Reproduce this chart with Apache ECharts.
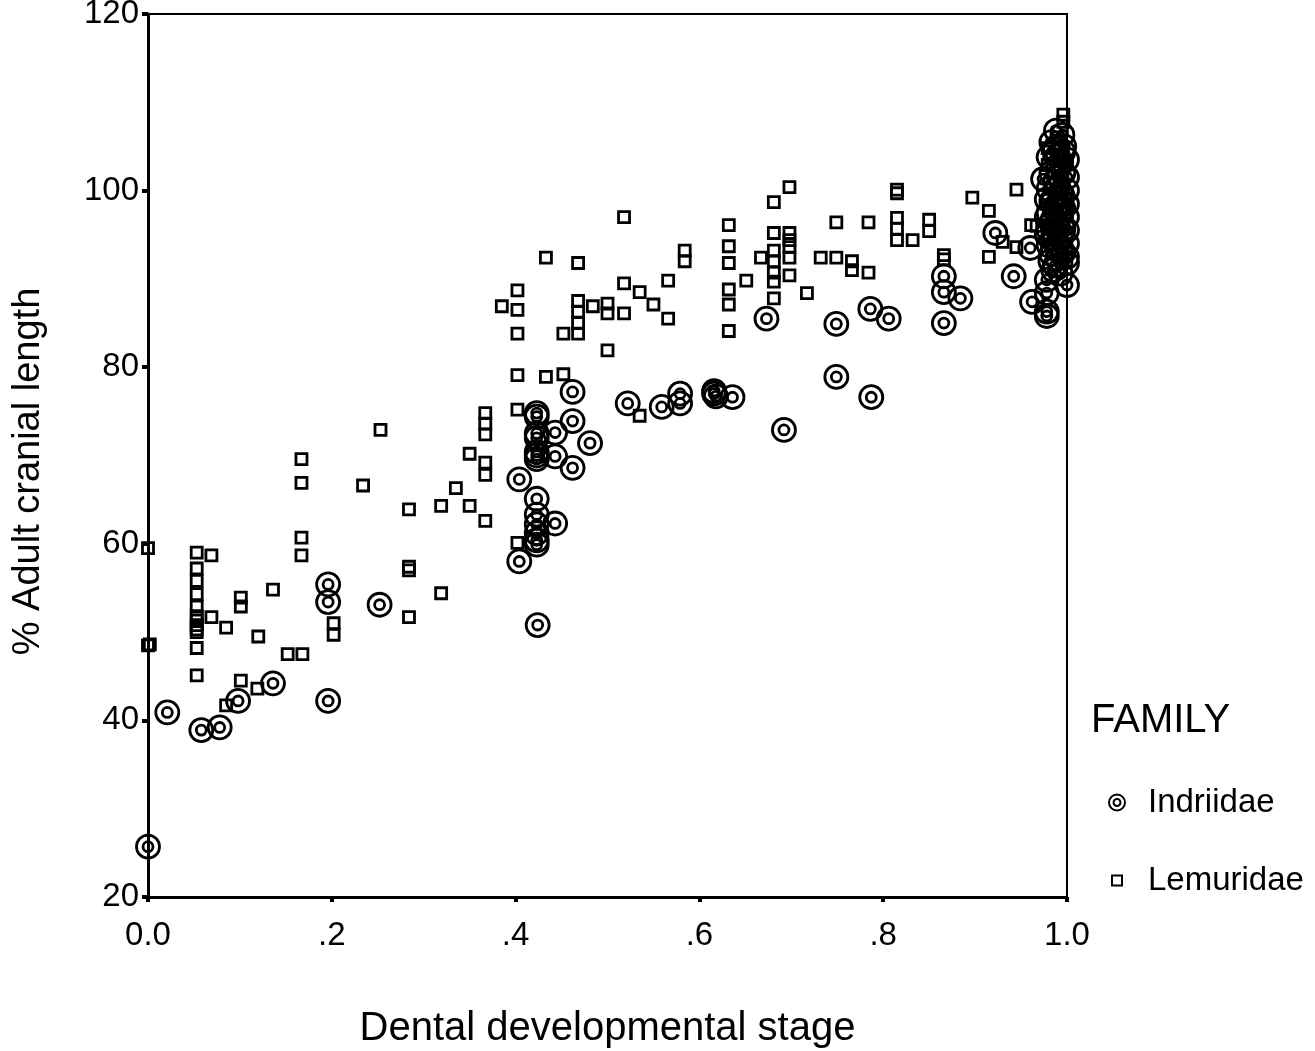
<!DOCTYPE html>
<html>
<head>
<meta charset="utf-8">
<script src="https://cdn.jsdelivr.net/npm/echarts@6/dist/echarts.min.js"></script>
<style>
html,body{margin:0;padding:0;background:#fff;}
#chart{width:1315px;height:1051px;}
</style>
</head>
<body>
<div id="chart"></div>
<script>
// ---- DATA ----
const xTicks = [0, 0.2, 0.4, 0.6, 0.8, 1.0];
const xTickLabels = ['0.0', '.2', '.4', '.6', '.8', '1.0'];
const yTicks = [20, 40, 60, 80, 100, 120];

const indriidae = [
  [0.000, 25.7], [0.021, 40.9], [0.058, 38.9], [0.078, 39.2], [0.098, 42.2], [0.136, 44.2],
  [0.196, 55.4], [0.196, 53.4], [0.196, 42.2], [0.252, 53.1],
  [0.404, 58.0], [0.404, 67.3],
  [0.423, 74.8], [0.423, 74.4], [0.423, 72.5], [0.423, 72.0], [0.423, 70.4], [0.423, 70.0], [0.423, 69.6],
  [0.443, 72.6], [0.443, 69.9], [0.443, 62.3],
  [0.462, 77.2], [0.462, 73.9], [0.462, 68.6], [0.481, 71.4],
  [0.423, 65.1], [0.423, 63.3], [0.423, 62.2], [0.423, 61.2], [0.423, 60.4], [0.423, 59.9],
  [0.424, 50.8],
  [0.522, 75.9], [0.559, 75.5], [0.579, 77.0], [0.579, 75.9],
  [0.616, 77.3], [0.616, 77.0], [0.618, 76.7], [0.636, 76.6],
  [0.673, 85.5], [0.692, 72.9], [0.749, 84.9], [0.749, 78.9],
  [0.786, 86.6], [0.806, 85.5], [0.787, 76.6],
  [0.866, 90.3], [0.866, 88.5], [0.884, 87.8], [0.866, 85.0],
  [0.922, 95.2], [0.942, 90.3], [0.960, 93.5], [0.962, 87.4],
  [0.978, 86.3], [0.978, 85.8], [0.978, 88.4], [0.978, 89.9], [0.974, 101.3],
  [0.978, 99.0], [0.980, 97.5], [0.980, 95.5], [0.980, 93.8], [0.982, 92.0], [0.985, 91.0],
  [0.990, 104.0], [0.990, 102.5], [0.990, 100.5], [0.990, 98.0], [0.990, 96.0], [0.990, 94.0],
  [0.995, 106.3], [0.997, 105.0], [1.000, 103.5], [1.000, 101.5], [1.000, 100.0], [1.000, 98.5],
  [1.000, 97.0], [1.000, 95.5], [1.000, 94.0], [1.000, 92.5], [1.000, 91.8], [1.000, 89.3],
  [0.995, 99.5], [0.985, 96.8], [0.985, 94.6],
  [0.983, 105.5], [0.987, 104.7], [0.993, 103.2], [0.983, 102.0], [0.987, 101.0], [0.993, 99.8],
  [0.983, 98.8], [0.987, 97.9], [0.993, 97.2], [0.983, 96.3], [0.987, 95.0], [0.993, 93.6],
  [0.983, 92.8], [0.987, 91.5], [0.993, 90.6], [0.988, 106.8], [0.996, 104.4], [0.996, 102.0],
  [0.996, 98.0], [0.996, 95.6], [0.996, 93.0], [0.980, 100.2], [0.980, 103.8], [0.990, 92.3],
  [0.978, 95.0], [0.978, 97.0]
];

const lemuridae = [
  [0.000, 59.5], [0.000, 48.5], [0.002, 48.6],
  [0.053, 59.0], [0.053, 57.2], [0.053, 55.8], [0.053, 54.3], [0.053, 52.9], [0.053, 51.8],
  [0.053, 51.3], [0.053, 50.8], [0.053, 50.3], [0.053, 50.0], [0.053, 48.2], [0.053, 45.1],
  [0.069, 58.7], [0.069, 51.7], [0.085, 50.5], [0.085, 41.7],
  [0.101, 53.9], [0.101, 52.9], [0.101, 44.5], [0.119, 43.6], [0.120, 49.5], [0.136, 54.8],
  [0.152, 47.5], [0.168, 47.5], [0.167, 60.7], [0.167, 58.7], [0.167, 69.6], [0.167, 66.9],
  [0.202, 51.0], [0.202, 49.7], [0.234, 66.6], [0.253, 72.9],
  [0.284, 63.9], [0.284, 57.4], [0.284, 57.0], [0.284, 51.7],
  [0.319, 64.3], [0.319, 54.4], [0.335, 66.3], [0.350, 70.2], [0.350, 64.3],
  [0.367, 74.8], [0.367, 73.6], [0.367, 72.4], [0.367, 69.2], [0.367, 67.8], [0.367, 62.6],
  [0.385, 86.9],
  [0.402, 88.7], [0.402, 86.5], [0.402, 83.8], [0.402, 79.1], [0.402, 75.2], [0.402, 60.1],
  [0.433, 92.4], [0.433, 78.9], [0.452, 83.8], [0.452, 79.2],
  [0.468, 91.8], [0.468, 87.5], [0.468, 86.3], [0.468, 85.0], [0.468, 83.8],
  [0.484, 86.9], [0.500, 87.2], [0.500, 86.1], [0.500, 81.9],
  [0.518, 97.0], [0.518, 89.5], [0.518, 86.1], [0.535, 88.5], [0.535, 74.5],
  [0.550, 87.1], [0.566, 89.8], [0.566, 85.5], [0.584, 93.2], [0.584, 92.0],
  [0.632, 96.1], [0.632, 93.7], [0.632, 91.8], [0.632, 88.8], [0.632, 87.1], [0.632, 84.1],
  [0.651, 89.8], [0.667, 92.4],
  [0.681, 98.7], [0.681, 95.2], [0.681, 93.2], [0.681, 92.0], [0.681, 90.7], [0.681, 89.7], [0.681, 87.8],
  [0.698, 100.4], [0.698, 95.2], [0.698, 94.4], [0.698, 93.6], [0.698, 92.4], [0.698, 90.4],
  [0.717, 88.4], [0.732, 92.4], [0.749, 92.4], [0.749, 96.4],
  [0.766, 92.0], [0.766, 91.0], [0.784, 90.7], [0.784, 96.4],
  [0.815, 100.1], [0.815, 99.7], [0.815, 96.9], [0.815, 95.7], [0.815, 94.4],
  [0.832, 94.4], [0.850, 96.7], [0.850, 95.4], [0.866, 92.7], [0.866, 92.2],
  [0.897, 99.2], [0.915, 97.7], [0.915, 92.5], [0.930, 94.2],
  [0.945, 100.1], [0.945, 93.6], [0.961, 96.1], [0.967, 96.0],
  [0.979, 104.8], [0.979, 102.9], [0.996, 108.6], [0.996, 107.8],
  [0.990, 106.0], [0.990, 104.0], [1.000, 103.0], [0.995, 101.0], [0.990, 99.0],
  [1.000, 97.5], [0.990, 96.0], [1.000, 95.0], [0.985, 94.0], [0.990, 93.0]
];

// ---- CHART ----
const FONT = '"Liberation Sans", Arial, sans-serif';
const ringPath = 'path://M12,0A12,12,0,1,1,12,24A12,12,0,1,1,12,0ZM12,6.8A5.2,5.2,0,1,1,12,17.2A5.2,5.2,0,1,1,12,6.8Z';

const chart = echarts.init(document.getElementById('chart'), null, {renderer: 'canvas'});
chart.setOption({
  animation: false,
  backgroundColor: '#fff',
  grid: {left: 148, right: 248, top: 14, bottom: 154, show: true, borderColor: '#000', borderWidth: 2,
         backgroundColor: 'transparent', containLabel: false, outerBoundsMode: 'none'},
  title: {
    text: 'FAMILY', left: 1086, top: 696,
    textStyle: {fontFamily: FONT, fontSize: 40, fontWeight: 'normal', color: '#000'}
  },
  legend: [
    {
      data: [{name: 'Indriidae', icon: ringPath}],
      orient: 'vertical', left: 1103, top: 781, itemWidth: 16, itemHeight: 16,
      textStyle: {fontFamily: FONT, fontSize: 33, color: '#000', padding: [0, 0, 0, 18]},
      selectedMode: false
    },
    {
      data: [{name: 'Lemuridae', icon: 'rect'}],
      orient: 'vertical', left: 1106, top: 859, itemWidth: 10, itemHeight: 10,
      textStyle: {fontFamily: FONT, fontSize: 33, color: '#000', padding: [0, 0, 0, 21]},
      selectedMode: false
    }
  ],
  xAxis: {
    type: 'value', min: 0, max: 1, interval: 0.2,
    name: 'Dental developmental stage', nameLocation: 'middle', nameGap: 112,
    nameTextStyle: {fontFamily: FONT, fontSize: 40, color: '#000'},
    axisLine: {show: true, onZero: false, lineStyle: {color: '#000', width: 3}},
    axisTick: {show: true, length: 5, lineStyle: {color: '#000', width: 4}},
    splitLine: {show: false},
    axisLabel: {
      fontFamily: FONT, fontSize: 33, color: '#000', margin: 22,
      formatter: function (v) {
        for (let i = 0; i < xTicks.length; i++) if (Math.abs(v - xTicks[i]) < 1e-6) return xTickLabels[i];
        return '';
      }
    }
  },
  yAxis: {
    type: 'value', min: 20, max: 120, interval: 20,
    name: '% Adult cranial length', nameLocation: 'middle', nameGap: 100, nameRotate: 90,
    nameTextStyle: {fontFamily: FONT, fontSize: 38, color: '#000', padding: [0, 32, 0, 0]},
    axisLine: {show: true, onZero: false, lineStyle: {color: '#000', width: 3}},
    axisTick: {show: true, length: 6, lineStyle: {color: '#000', width: 4}},
    splitLine: {show: false},
    axisLabel: {fontFamily: FONT, fontSize: 33, color: '#000', margin: 9}
  },
  series: [
    {
      name: 'Lemuridae', type: 'scatter', data: lemuridae,
      symbol: 'rect', symbolSize: 11,
      itemStyle: {color: 'rgba(255,255,255,0)', borderColor: '#000', borderWidth: 2.8, opacity: 1}
    },
    {
      name: 'Indriidae', type: 'scatter', data: indriidae,
      symbol: ringPath, symbolSize: 23,
      itemStyle: {color: 'rgba(255,255,255,0)', borderColor: '#000', borderWidth: 2.8, opacity: 1}
    }
  ]
});
</script>
</body>
</html>
